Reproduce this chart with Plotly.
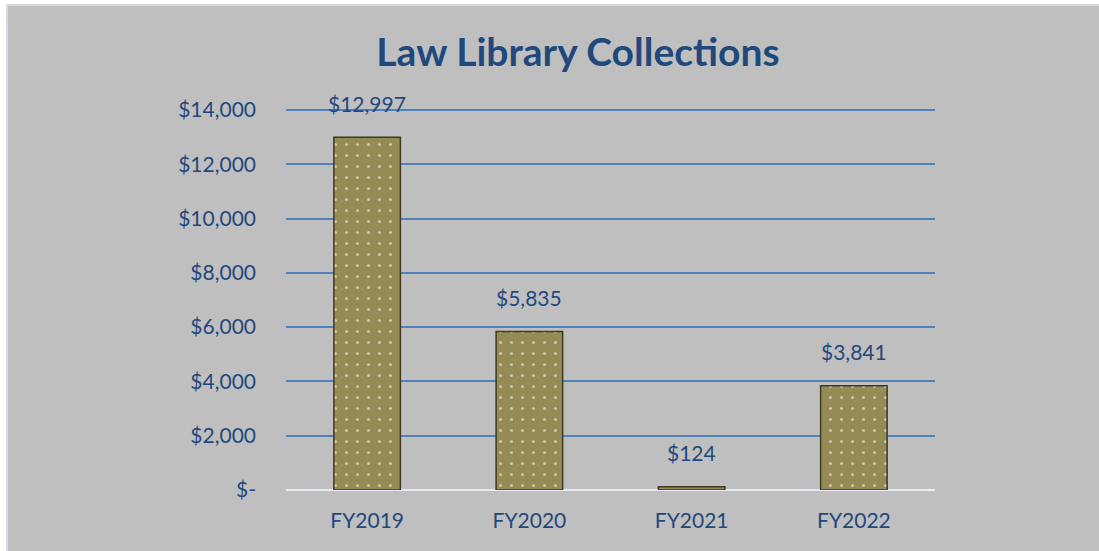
import plotly.graph_objects as go

categories = ["FY2019", "FY2020", "FY2021", "FY2022"]
values = [12997, 5835, 124, 3841]
labels = ["$12,997", "$5,835", "$124", "$3,841"]
tick_vals = [0, 2000, 4000, 6000, 8000, 10000, 12000, 14000]
tick_text = ["$-", "$2,000", "$4,000", "$6,000", "$8,000", "$10,000", "$12,000", "$14,000"]

W, H = 1099, 551
L, R, T, B = 286, 164, 106, 61
pw, ph = W - L - R, H - T - B
ymax = 14000 + 4 / (380 / 14000)

def px(x):
    return (x - L) / pw

def py(y):
    return (H - B - y) / ph

navy = "#1F497D"
font = "Lato"
fs = 21

fig = go.Figure()
fig.add_trace(go.Bar(
    x=categories, y=values, width=0.41,
    marker=dict(color="#958C55",
                line=dict(color="#3E3A22", width=1.5),
                pattern=dict(shape=".", fgcolor="#FFFFFF", bgcolor="#958C55",
                             size=11, solidity=0.06)),
    hoverinfo="skip",
))
for c, v, t in zip(categories, values, labels):
    fig.add_annotation(x=c, y=v, text=t, showarrow=False, yanchor="middle",
                       yshift=34, font=dict(family=font, size=fs, color=navy))

fig.update_layout(
    width=W, height=H,
    margin=dict(l=L, r=R, t=T, b=B, pad=0),
    paper_bgcolor="#BFBFBF", plot_bgcolor="#BFBFBF",
    showlegend=False,
    title=dict(text="<b>Law Library Collections</b>", xref="container",
               x=578 / W, xanchor="center",
               y=1 - 52 / H, yanchor="middle",
               font=dict(family=font, size=39, color=navy)),
    font=dict(family=font, color=navy),
    shapes=[
        dict(type="rect", xref="paper", yref="paper",
             x0=px(-5), x1=px(6.3), y0=py(H + 5), y1=py(-5),
             fillcolor="#FFFFFF", line=dict(width=0), layer="below"),
        dict(type="rect", xref="paper", yref="paper",
             x0=px(-5), x1=px(W + 5), y0=py(4.3), y1=py(-5),
             fillcolor="#FFFFFF", line=dict(width=0), layer="below"),
        dict(type="line", xref="paper", yref="paper",
             x0=px(7), x1=px(7), y0=py(H + 5), y1=py(5),
             line=dict(color="#D6E0EE", width=1.5), layer="below"),
        dict(type="line", xref="paper", yref="paper",
             x0=px(7), x1=px(W + 5), y0=py(5), y1=py(5),
             line=dict(color="#D6E0EE", width=1.5), layer="below"),
    ],
)
fig.update_xaxes(showgrid=False, showline=False, ticks="", ticklabelstandoff=16,
                 tickfont=dict(family=font, size=fs, color=navy))
fig.update_yaxes(range=[0, ymax], tickvals=tick_vals, ticktext=tick_text,
                 showgrid=True, gridcolor="#4F81BD", gridwidth=1.5,
                 zeroline=True, zerolinecolor="#E4ECF6", zerolinewidth=2,
                 showline=False, ticks="", ticklabelstandoff=29,
                 tickfont=dict(family=font, size=fs, color=navy))

fig.write_html("out.html", config={"displayModeBar": False},
               post_script="document.body.style.margin='0';"
                           "document.body.style.background='#BFBFBF';"
                           "document.documentElement.style.background='#BFBFBF';")
